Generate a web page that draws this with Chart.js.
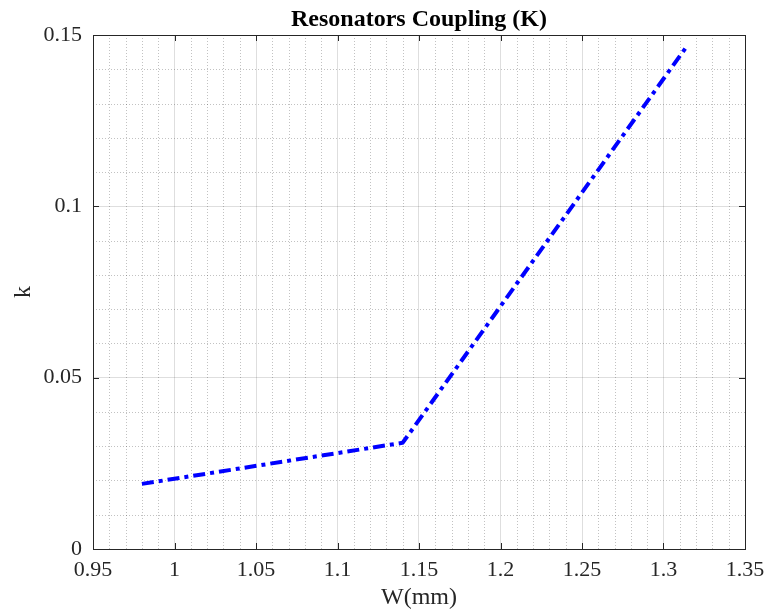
<!DOCTYPE html>
<html>
<head>
<meta charset="utf-8">
<script src="https://cdn.jsdelivr.net/npm/chart.js@4/dist/chart.umd.min.js"></script>
<style>
  html, body { margin: 0; padding: 0; background: #ffffff; }
  #wrap { width: 769px; height: 615px; }
</style>
</head>
<body>
<div id="wrap"><canvas id="c" width="769" height="615"></canvas></div>
<script>
// ---- data ----
const wValues = [0.98, 1.14, 1.314];        // W (mm)
const kValues = [0.019, 0.031, 0.1465];     // coupling k
const titleText = 'Resonators Coupling (K)';
const xLabel = 'W(mm)';
const yLabel = 'k';
const xRange = [0.95, 1.35];
const yRange = [0, 0.15];
const majorStep = 0.05;
const minorStep = 0.01;

const axisColor = '#262626';
const serif = '"Liberation Serif", "Times New Roman", serif';

function fmt(v) { return String(parseFloat(v.toFixed(4))); }

const matlabAxes = {
  id: 'matlabAxes',
  beforeDatasetsDraw(chart) {
    const ctx = chart.ctx, a = chart.chartArea;
    const xs = chart.scales.x, ys = chart.scales.y;
    ctx.save();
    ctx.strokeStyle = 'rgba(0,0,0,0.24)';
    ctx.lineWidth = 1;
    ctx.setLineDash([1, 2]);
    const nx = Math.round((xRange[1] - xRange[0]) / minorStep);
    for (let i = 1; i < nx; i++) {
      if (i % 5 === 0) continue;
      const v = xRange[0] + i * minorStep;
      const px = Math.round(xs.getPixelForValue(v)) + 0.5;
      ctx.beginPath(); ctx.moveTo(px, a.top); ctx.lineTo(px, a.bottom); ctx.stroke();
    }
    const ny = Math.round((yRange[1] - yRange[0]) / minorStep);
    for (let i = 1; i < ny; i++) {
      if (i % 5 === 0) continue;
      const v = yRange[0] + i * minorStep;
      const py = Math.round(ys.getPixelForValue(v)) + 0.5;
      ctx.beginPath(); ctx.moveTo(a.left, py); ctx.lineTo(a.right, py); ctx.stroke();
    }
    ctx.restore();
  },
  afterDatasetsDraw(chart) {
    const ctx = chart.ctx, a = chart.chartArea;
    const xs = chart.scales.x, ys = chart.scales.y;
    ctx.save();
    ctx.strokeStyle = axisColor;
    ctx.lineWidth = 1;
    ctx.setLineDash([]);
    const L = 6;
    xs.ticks.forEach(t => {
      const px = Math.round(xs.getPixelForValue(t.value)) + 0.5;
      ctx.beginPath();
      ctx.moveTo(px, a.bottom); ctx.lineTo(px, a.bottom - L);
      ctx.moveTo(px, a.top); ctx.lineTo(px, a.top + L);
      ctx.stroke();
    });
    ys.ticks.forEach(t => {
      const py = Math.round(ys.getPixelForValue(t.value)) + 0.5;
      ctx.beginPath();
      ctx.moveTo(a.left, py); ctx.lineTo(a.left + L, py);
      ctx.moveTo(a.right, py); ctx.lineTo(a.right - L, py);
      ctx.stroke();
    });
    ctx.strokeRect(Math.round(a.left) + 0.5, Math.round(a.top) + 0.5,
                   Math.round(a.right - a.left), Math.round(a.bottom - a.top));
    ctx.restore();
  }
};

new Chart(document.getElementById('c'), {
  type: 'line',
  data: {
    datasets: [{
      data: wValues.map((w, i) => ({ x: w, y: kValues[i] })),
      borderColor: '#0000ff',
      borderWidth: 4,
      borderDash: [12, 5, 4, 5],
      borderCapStyle: 'butt',
      pointRadius: 0,
      fill: false,
      tension: 0
    }]
  },
  options: {
    responsive: false,
    animation: false,
    devicePixelRatio: 1,
    layout: { padding: { left: 0, right: 24, top: 0, bottom: 0 } },
    plugins: {
      legend: { display: false },
      tooltip: { enabled: false },
      title: {
        display: true,
        text: titleText,
        fullSize: false,
        color: '#000000',
        font: { family: serif, size: 24, weight: 'bold', lineHeight: 1.0 },
        padding: { top: 8, bottom: 3 }
      }
    },
    scales: {
      x: {
        type: 'linear',
        min: xRange[0], max: xRange[1],
        afterFit(s) { s.height = 66; s.paddingLeft = 0; s.paddingRight = 0; },
        border: { display: false },
        grid: { color: 'rgba(0,0,0,0.13)', lineWidth: 1, drawTicks: false },
        ticks: {
          stepSize: majorStep,
          color: axisColor,
          font: { family: serif, size: 22 },
          padding: 8,
          maxRotation: 0,
          callback: v => fmt(v)
        },
        title: {
          display: true, text: xLabel, color: axisColor,
          font: { family: serif, size: 24 },
          padding: { top: 0, bottom: 3 }
        }
      },
      y: {
        type: 'linear',
        min: yRange[0], max: yRange[1],
        afterFit(s) { s.width = 93; s.paddingTop = 0; s.paddingBottom = 0; },
        border: { display: false },
        grid: { color: 'rgba(0,0,0,0.13)', lineWidth: 1, drawTicks: false },
        ticks: {
          stepSize: majorStep,
          color: axisColor,
          font: { family: serif, size: 22 },
          padding: 11,
          callback: v => fmt(v)
        },
        title: {
          display: true, text: yLabel, color: axisColor,
          font: { family: serif, size: 24 },
          padding: { top: 9, bottom: 0 }
        }
      }
    }
  },
  plugins: [matlabAxes]
});
</script>
</body>
</html>
